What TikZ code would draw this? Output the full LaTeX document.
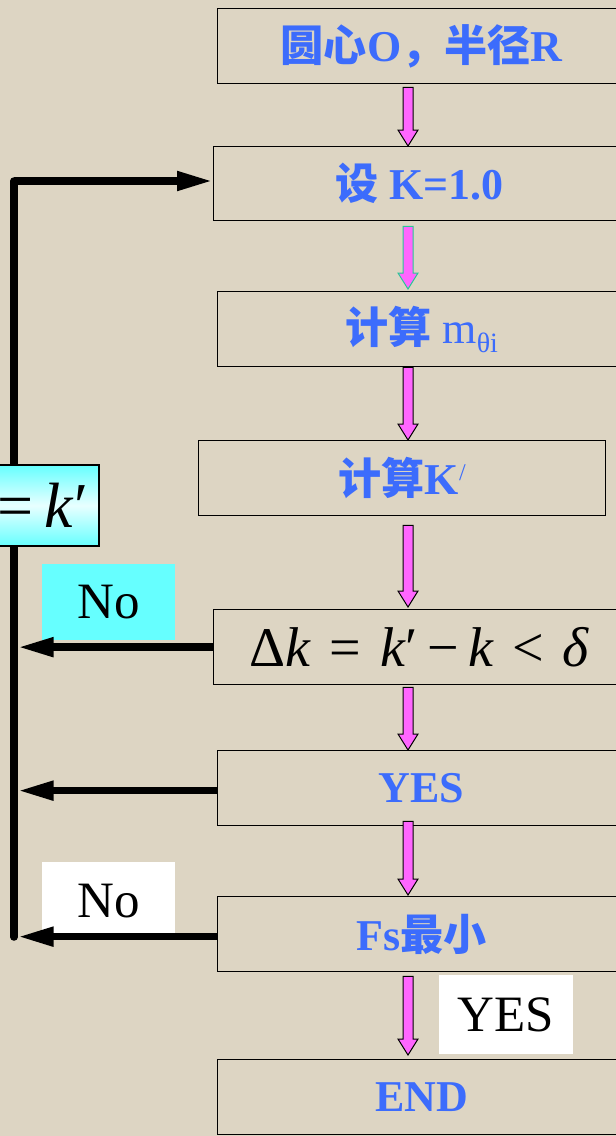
\documentclass[tikz,border=0pt]{standalone}
\usepackage{fontspec}
\setmainfont{Liberation Serif}
\newfontfamily\cjk{Noto Sans CJK SC}[Scale=0.98]
\usetikzlibrary{arrows.meta,calc}
\definecolor{bgc}{RGB}{221,213,195}
\definecolor{bluec}{RGB}{60,108,252}
\definecolor{pinkc}{RGB}{255,102,255}
\definecolor{cyanc}{RGB}{102,255,255}
\definecolor{tealc}{RGB}{40,200,150}
\newcommand\zh[1]{{\cjk\bfseries #1}}
\newcommand\blockarr[3]{%
  \path let \p1=(#1), \p2=(#2) in
    [draw=#3, fill=pinkc, line width=1pt, line join=miter]
    (\x1-5pt,\y1) -- (\x1+5pt,\y1) -- (\x1+5pt,\y2+16pt) -- (\x1+10pt,\y2+16pt)
    -- (\x1,\y2) -- (\x1-10pt,\y2+16pt) -- (\x1-5pt,\y2+16pt) -- cycle;}
\tikzset{
  boxst/.style={draw=black, line width=1.3pt, minimum height=75pt, anchor=north west,
    inner sep=0pt, text=bluec, font=\fontsize{44}{48}\selectfont\bfseries},
  loopline/.style={line width=7.5pt, black},
  looptip/.style={-{Triangle[length=36pt,width=18pt]}},
  lblst/.style={inner sep=0pt, font=\fontsize{51}{56}\selectfont, text=black}
}
\begin{document}
\begin{tikzpicture}[x=1pt,y=-1pt]
\useasboundingbox (0,0) rectangle (616,1136);
\fill[bgc] (0,0) rectangle (616,1136);
\clip (0,0) rectangle (616,1136);

% boxes
\node[boxst, minimum width=408pt] (b1) at (217,8) {\zh{圆心}O\zh{，半径}R};
\node[boxst, minimum width=412pt, minimum height=74pt] (b2) at (213,146) {\zh{设} K=1.0};
\node[boxst, minimum width=408pt] (b3) at (217,291) {\zh{计算} {\mdseries m\raisebox{-9pt}{\fontsize{28}{30}\selectfont θi}}};
\node[boxst, minimum width=407pt] (b4) at (198,440) {\zh{计算}K\raisebox{14pt}{\fontsize{24}{26}\selectfont\mdseries /}};
\node[boxst, minimum width=412pt, text=black, font=\fontsize{56}{60}\selectfont] (b5) at (213,609)
  {Δ\textit{k}\,\,=\,\,\textit{k}′\,−\,\textit{k}\,\,<\,\,\textit{δ}};
\node[boxst, minimum width=408pt] (b6) at (217,750) {YES};
\node[boxst, minimum width=408pt] (b7) at (217,896) {Fs\zh{最小}};
\node[boxst, minimum width=408pt] (b8) at (217,1059) {END};

% labels
\node[lblst, fill=cyanc, minimum width=133pt, minimum height=76pt] (no1) at (108.5,602) {No};
\node[lblst, fill=white, minimum width=133pt, minimum height=78pt] (no2) at (108.5,901) {No};
\node[lblst, fill=white, minimum width=134pt, minimum height=79pt] (yes) at (506,1014.5) {YES};

% loop
\coordinate (lt) at (14,181);
\coordinate (lb) at (14,937);
\draw[loopline, line cap=round] (lt) -- (lb);
\draw[loopline, looptip] (lt) -- (lt -| b2.west);
\draw[loopline, looptip, shorten >=3.5pt] (b5.west) -- (b5.west -| lt);
\draw[loopline, looptip, shorten >=3.5pt] ([yshift=-2.5pt]b6.west) -- ([yshift=-2.5pt]b6.west -| lt);
\draw[loopline, looptip, shorten >=3.5pt] ([yshift=-2.5pt]b7.west) -- ([yshift=-2.5pt]b7.west -| lt);

% k box
\node[draw=black, line width=1.3pt, minimum width=104pt, minimum height=81pt, inner sep=0pt,
  top color=cyanc, bottom color=cyanc, middle color=white!85!cyanc,
  font=\fontsize{64}{68}\selectfont] (kb) at (47,505.5) {\hspace*{-8pt}=\,\textit{k}′};

% block arrows
\coordinate (ax) at (408,0);
\blockarr{$(b1.south -| ax)+(0,3)$}{b2.north -| ax}{black}
\blockarr{$(b2.south -| ax)+(0,5)$}{$(b3.north -| ax)+(0,-2)$}{tealc}
\blockarr{$(b3.south -| ax)+(0,0)$}{b4.north -| ax}{black}
\blockarr{$(b4.south -| ax)+(0,9)$}{$(b5.north -| ax)+(0,-2)$}{black}
\blockarr{$(b5.south -| ax)+(0,2)$}{b6.north -| ax}{black}
\blockarr{$(b6.south -| ax)+(0,-5)$}{$(b7.north -| ax)+(0,-1)$}{black}
\blockarr{$(b7.south -| ax)+(0,4)$}{$(b8.north -| ax)+(0,-4)$}{black}
\end{tikzpicture}
\end{document}
